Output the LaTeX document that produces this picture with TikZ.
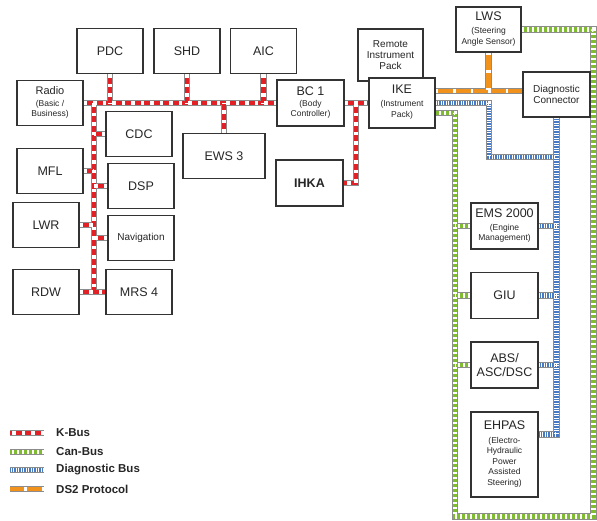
\documentclass[tikz,border=0pt]{standalone}
\usepackage{fontspec}
\setmainfont{Liberation Sans}
\usetikzlibrary{positioning,backgrounds}
\definecolor{kbusred}{RGB}{226, 32, 38}
\definecolor{canbusgreen}{RGB}{128, 188, 48}
\definecolor{diagblue}{RGB}{72, 122, 196}
\definecolor{dstwoorange}{RGB}{240, 146, 28}
\definecolor{buswall}{RGB}{140, 140, 140}
\newcommand{\ecunote}[1]{{\fontsize{8.5}{10.5}\selectfont\begin{tabular}[t]{@{}c@{}}#1\end{tabular}}}

\begin{document}
\begin{tikzpicture}[x=1pt, y=-1pt, node distance=22pt,
    every node/.style={align=center, inner sep=1pt, text=black!85},
    ecu/.style={draw=black!80, line width=1.6pt, fill=white, minimum width=66pt, minimum height=45pt, font=\fontsize{12.5}{14}\selectfont},
    legend/.style={anchor=west, font=\fontsize{11.5}{13}\bfseries},
    buswire/.style={draw=buswall, line width=6.5pt},
    kbus/.style={preaction={draw, buswire}, draw=kbusred, line width=4.5pt, postaction={draw=white, line width=4.5pt, dash pattern=on 3.5pt off 6pt}},
    canbus/.style={preaction={draw, buswire}, draw=canbusgreen, line width=4.5pt, postaction={draw=white, line width=4.5pt, dash pattern=on 2pt off 3pt}},
    diagbus/.style={preaction={draw, buswire}, draw=diagblue, line width=4.5pt, postaction={draw=white, line width=4.5pt, dash pattern=on 1pt off 1.5pt}},
    dstwo/.style={preaction={draw, buswire}, draw=dstwoorange, line width=4.5pt, postaction={draw=white, line width=4.5pt, dash pattern=on 2.5pt off 15pt}}]
  \useasboundingbox (0,0) rectangle (597,520);

  % K-Bus modules
  \node[ecu] (pdc) at (110,51) {PDC};
  \node[ecu] (shd) at (187,51) {SHD};
  \node[ecu] (aic) at (263.5,51) {AIC};
  \node[ecu, font=\fontsize{11}{12}\selectfont] (radio) at (50,103) {Radio\\\ecunote{(Basic /\\Business)}};
  \node[ecu, minimum width=67pt, minimum height=46pt] (bc1) at (310.5,103) {BC 1\\[-3pt]\ecunote{(Body\\Controller)}};
  \node[ecu] (cdc) at (139,134) {CDC};
  \node[ecu, minimum width=82pt] (ews) at (224,156) {EWS 3};
  \node[ecu, minimum width=67pt, minimum height=46pt] (ihka) at (309.5,183) {\bfseries IHKA};
  \node[ecu] (mfl) at (50,171) {MFL};
  \node[ecu] (dsp) at (141,186) {DSP};
  \node[ecu] (lwr) at (46,225) {LWR};
  \node[ecu] (nav) at (141,238) {\fontsize{10}{11}\selectfont Navigation};
  \node[ecu] (rdw) at (46,292) {RDW};
  \node[ecu] (mrs) at (139,292) {MRS 4};

  % instrument cluster and diagnosis
  \node[ecu, minimum width=65pt, minimum height=52pt, font=\fontsize{10}{11}\selectfont] (rip) at (390.5,55) {Remote\\Instrument\\Pack};
  \node[ecu, minimum height=50pt] (ike) at (402,103) {IKE\\[-1pt]\ecunote{(Instrument\\Pack)}};
  \node[ecu, minimum width=65pt] (lws) at (488.5,29.5) {LWS\\[-1pt]\ecunote{(Steering\\Angle Sensor)}};
  \node[ecu, minimum width=67pt, font=\fontsize{10}{11}\selectfont] (diag) at (556.5,94.5) {Diagnostic\\Connector};

  % Can-Bus modules
  \node[ecu, minimum width=67pt, minimum height=46pt] (ems) at (504.5,226) {EMS 2000\\[-1pt]\ecunote{(Engine\\Management)}};
  \node[ecu, minimum width=67pt, minimum height=46pt, below=of ems] (giu) {GIU};
  \node[ecu, minimum width=67pt, minimum height=46pt, below=of giu] (abs) {ABS/\\ASC/DSC};
  \node[ecu, minimum width=67pt, minimum height=85pt, below=of abs] (ehpas) {EHPAS\\[0pt]\ecunote{(Electro-\\Hydraulic\\Power\\Assisted\\Steering)}};

  \coordinate (kleft) at (94,103);
  \coordinate (kright) at (356,103);
  \coordinate (dsout) at ([yshift=12pt]ike.east);
  \coordinate (canout) at ([yshift=-10pt]ike.east);
  \coordinate (ehpasin) at ([yshift=20pt]ehpas.east);
  \coordinate (dknee) at (489,157);
  \coordinate (canright) at (593.5,516.5);
  \coordinate (canleft) at (455,516.5);

  \begin{scope}[on background layer]
    \draw[kbus] (radio.east) -- (bc1.west)
      (bc1.east) -- (ike.west)
      (pdc.south) -- (pdc.south |- kleft)
      (shd.south) -- (shd.south |- kleft)
      (aic.south) -- (aic.south |- kleft)
      (ews.north) -- (ews.north |- kleft)
      (kleft) -- (kleft |- rdw.east)
      (cdc.west) -- (cdc.west -| kleft)
      (mfl.east) -- (mfl.east -| kleft)
      (dsp.west) -- (dsp.west -| kleft)
      (lwr.east) -- (lwr.east -| kleft)
      (nav.west) -- (nav.west -| kleft)
      (rdw.east) -- (mrs.west)
      (kright) |- (ihka.east);
    \draw[dstwo] (dsout) -- (dsout -| diag.west)
      (lws.south) -- (lws.south |- dsout);
    \draw[diagbus] (ike.east) -| (dknee) -- (dknee -| diag.south)
      (diag.south) |- (ehpasin)
      (ems.east) -- (ems.east -| diag.south)
      (giu.east) -- (giu.east -| diag.south)
      (abs.east) -- (abs.east -| diag.south);
    \draw[canbus] (lws.east) -| (canright) -- (canleft) |- (canout)
      (ems.west) -- (ems.west -| canleft)
      (giu.west) -- (giu.west -| canleft)
      (abs.west) -- (abs.west -| canleft);
  \end{scope}

  % legend
  \node[legend] (lkbus) at (55,433) {K-Bus};
  \node[legend] (lcan) at (55,452) {Can-Bus};
  \node[legend] (ldiag) at (55,470) {Diagnostic Bus};
  \node[legend] (lds2) at (55,489) {DS2 Protocol};
  \draw[kbus] ([xshift=-11pt]lkbus.west) -- ++(-34,0);
  \draw[canbus] ([xshift=-11pt]lcan.west) -- ++(-34,0);
  \draw[diagbus] ([xshift=-11pt]ldiag.west) -- ++(-34,0);
  \draw[dstwo] ([xshift=-11pt]lds2.west) -- ++(-34,0);
\end{tikzpicture}
\end{document}
